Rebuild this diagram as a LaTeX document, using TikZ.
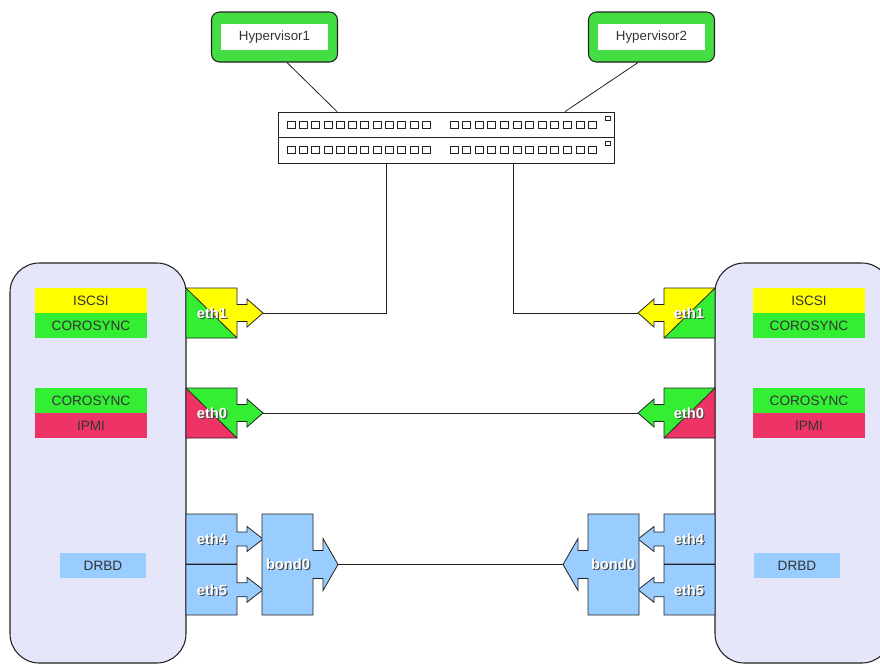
\documentclass[tikz,border=0pt]{standalone}
\usepackage{fontspec}
\setmainfont{Liberation Sans}
\usetikzlibrary{calc}
\definecolor{lgreen}{HTML}{33EE33}
\definecolor{hvgreen}{HTML}{44DD44}
\definecolor{lyellow}{HTML}{FFFF00}
\definecolor{lred}{HTML}{EE3366}
\definecolor{lblue}{HTML}{99CCFF}
\definecolor{lav}{HTML}{E6E6FA}
\definecolor{txtgray}{HTML}{333333}
\definecolor{edge}{HTML}{222222}

% split-coloured interface: x, y, xscale, lower colour, upper colour, name, text
\newcommand{\ethsplit}[7]{%
  \begin{scope}[shift={(#1,#2)}, xscale=#3]
    \fill[#4] (0,0) -- (51,50) -- (0,50) -- cycle;
    \fill[#5] (0,0) -- (51,0) -- (51,16.5) -- (61,16.5) -- (61,11) -- (77,25)
      -- (61,39) -- (61,33.5) -- (51,33.5) -- (51,50) -- cycle;
    \draw[shp] (0,0) -- (51,0) -- (51,16.5) -- (61,16.5) -- (61,11) -- (77,25)
      -- (61,39) -- (61,33.5) -- (51,33.5) -- (51,50) -- (0,50) -- cycle;
    \draw[shp] (0,0) -- (51,50);
    \coordinate (#6tip) at (77,25);
    \coordinate (#6c) at (26,25);
  \end{scope}
  \node[ethsh] at ($(#6c)+(1.2,1.2)$) {#7};
  \node[ethtxt] (#6) at (#6c) {#7};
}
% blue arrow box: x, y, xscale, height, shaft half, head half, head length, name, text
\newcommand{\bluearrow}[9]{%
  \begin{scope}[shift={(#1,#2)}, xscale=#3]
    \filldraw[shp, fill=lblue] (0,0) -- (51,0) -- (51,{#4/2-#5}) -- (61,{#4/2-#5})
      -- (61,{#4/2-#6}) -- ({61+#7},{#4/2}) -- (61,{#4/2+#6}) -- (61,{#4/2+#5})
      -- (51,{#4/2+#5}) -- (51,#4) -- (0,#4) -- cycle;
    \coordinate (#8tip) at ({61+#7},{#4/2});
    \coordinate (#8c) at (26,{#4/2});
  \end{scope}
  \node[ethsh] at ($(#8c)+(1.2,1.2)$) {#9};
  \node[ethtxt] (#8) at (#8c) {#9};
}

\begin{document}
\begin{tikzpicture}[x=0.75pt,y=-0.75pt,
  shp/.style={draw=edge, line width=0.6pt, line join=miter},
  conn/.style={draw=edge, line width=0.6pt},
  server/.style={draw=edge, line width=0.8pt, fill=lav, rounded corners=22pt, inner sep=0},
  lbl/.style={minimum width=84pt, minimum height=18.75pt, inner sep=0,
    font=\fontsize{10.2}{12}\selectfont, text=txtgray},
  ethtxt/.style={font=\fontsize{11}{13}\selectfont\bfseries, text=white, inner sep=0},
  ethsh/.style={font=\fontsize{11}{13}\selectfont\bfseries, text=black!70, inner sep=0},
  hvout/.style={draw=edge, line width=0.8pt, fill=hvgreen, rounded corners=6pt,
    minimum width=94.5pt, minimum height=37.5pt, inner sep=0},
  hvin/.style={fill=white, minimum width=80.5pt, minimum height=19.5pt, inner sep=0,
    font=\fontsize{10}{12}\selectfont, text=txtgray},
  port/.style={draw=edge, line width=0.5pt, fill=white}
]
\useasboundingbox (0,0) rectangle (880,664);
\fill[white] (0,0) rectangle (880,664);

% servers
\node[server, minimum width=132pt, minimum height=300pt] (srvL) at (98,463) {};
\node[server, minimum width=132pt, minimum height=300pt] (srvR) at (803,463) {};

% labels left
\node[lbl, fill=lyellow] (iscsiL) at (91,300.5) {ISCSI};
\node[lbl, fill=lgreen] (coroAL) at (91,325.5) {COROSYNC};
\node[lbl, fill=lgreen] (coroBL) at (91,400.5) {COROSYNC};
\node[lbl, fill=lred] (ipmiL) at (91,425.5) {IPMI};
\node[lbl, fill=lblue, minimum width=64.5pt] (drbdL) at (103,565.5) {DRBD};
% labels right
\node[lbl, fill=lyellow] (iscsiR) at (809,300.5) {ISCSI};
\node[lbl, fill=lgreen] (coroAR) at (809,325.5) {COROSYNC};
\node[lbl, fill=lgreen] (coroBR) at (809,400.5) {COROSYNC};
\node[lbl, fill=lred] (ipmiR) at (809,425.5) {IPMI};
\node[lbl, fill=lblue, minimum width=64.5pt] (drbdR) at (797,565.5) {DRBD};

% interfaces
\ethsplit{186}{288}{1}{lgreen}{lyellow}{ethoneL}{eth1}
\ethsplit{186}{388}{1}{lred}{lgreen}{ethzeroL}{eth0}
\ethsplit{715}{288}{-1}{lgreen}{lyellow}{ethoneR}{eth1}
\ethsplit{715}{388}{-1}{lred}{lgreen}{ethzeroR}{eth0}

\bluearrow{186}{514}{1}{50}{7}{12.5}{16}{ethfourL}{eth4}
\bluearrow{186}{564.5}{1}{50.5}{7}{12.5}{16}{ethfiveL}{eth5}
\bluearrow{262}{514}{1}{101}{14}{26}{15}{bondL}{bond0}
\bluearrow{715}{514}{-1}{50}{7}{12.5}{16}{ethfourR}{eth4}
\bluearrow{715}{564.5}{-1}{50.5}{7}{12.5}{16}{ethfiveR}{eth5}
\bluearrow{639}{514}{-1}{101}{14}{26}{15}{bondR}{bond0}

% switch
\node[draw=edge, line width=0.6pt, fill=white, minimum width=252pt, minimum height=38.25pt, inner sep=0] (sw) at (446,137.5) {};
\draw[conn] (sw.west) -- (sw.east);
\foreach \r in {121,146}{
  \foreach \i in {0,...,11}{
    \draw[port] ({287+12.3*\i},\r) rectangle ++(8,7.5);
    \draw[port] ({450+12.6*\i},\r) rectangle ++(8,7.5);
  }
  \draw[port] (605,\r-5) rectangle ++(5,4);
}

% hypervisors
\node[hvout] (hv1) at (274.5,37) {};
\node[hvin] (hv1t) at (hv1) {Hypervisor1};
\node[hvout] (hv2) at (651.5,37) {};
\node[hvin] (hv2t) at (hv2) {Hypervisor2};

% connectors
\draw[conn] ($(hv1.south)+(12.5,0)$) -- ($(sw.north)+(-109,0)$);
\draw[conn] ($(hv2.south)+(-13.5,0)$) -- ($(sw.north)+(119,0)$);
\draw[conn] ($(sw.south)+(-60,0)$) |- (ethoneLtip);
\draw[conn] ($(sw.south)+(67,0)$) |- (ethoneRtip);
\draw[conn] (ethzeroLtip) -- (ethzeroRtip);
\draw[conn] (bondLtip) -- (bondRtip);
\end{tikzpicture}
\end{document}
